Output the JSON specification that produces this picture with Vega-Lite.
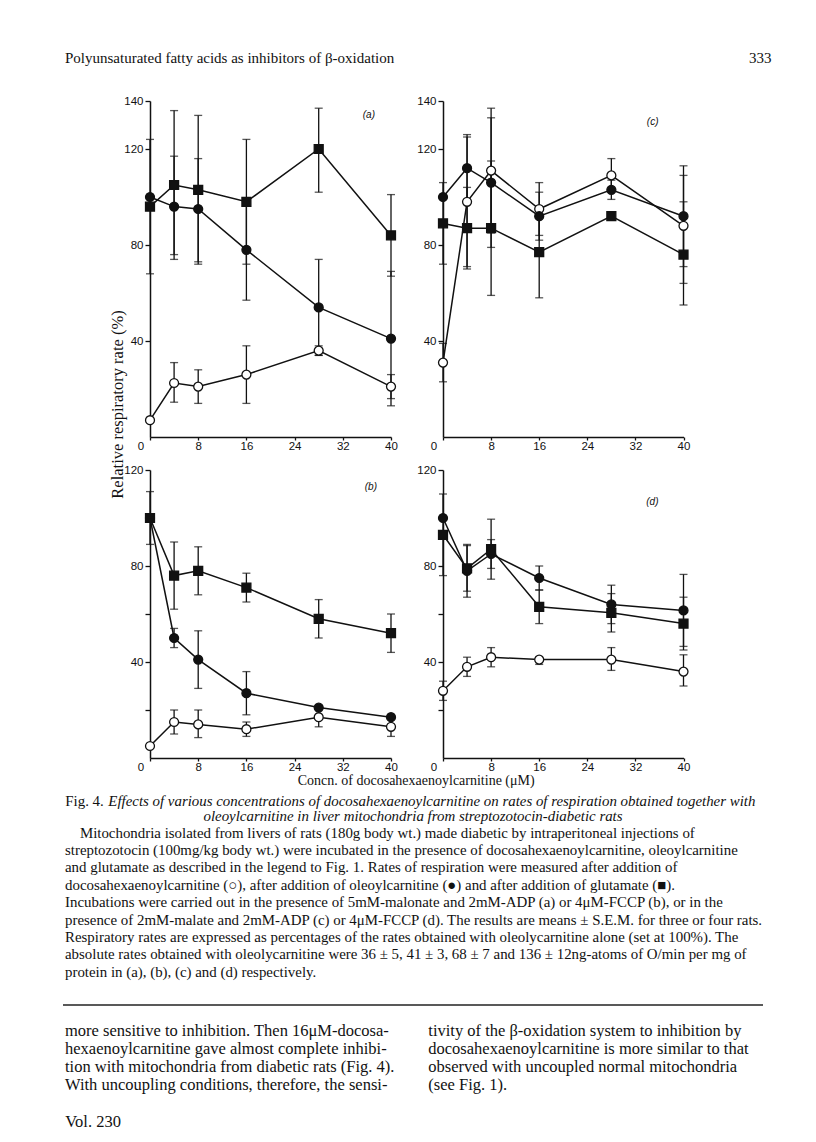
{
  "$schema": "https://vega.github.io/schema/vega-lite/v6.json",
  "background": "white",
  "padding": {"left": 62, "top": 0, "right": 0, "bottom": 0},
  "autosize": {"type": "pad"},
  "columns": 4,
  "align": "each",
  "bounds": "flush",
  "spacing": 0,
  "datasets": {
    "blank": [],
    "fig": [
      {"p": "a", "s": "doco", "x": 0, "v": 7},
      {"p": "a", "s": "doco", "x": 4, "v": 22.5, "lo": 14.5, "hi": 31},
      {"p": "a", "s": "doco", "x": 8, "v": 21, "lo": 14, "hi": 28},
      {"p": "a", "s": "doco", "x": 16, "v": 26, "lo": 14, "hi": 38},
      {"p": "a", "s": "doco", "x": 28, "v": 36, "lo": 34, "hi": 38},
      {"p": "a", "s": "doco", "x": 40, "v": 21, "lo": 16, "hi": 26},
      {"p": "a", "s": "oleo", "x": 0, "v": 100},
      {"p": "a", "s": "oleo", "x": 4, "v": 96, "lo": 76, "hi": 117},
      {"p": "a", "s": "oleo", "x": 8, "v": 95, "lo": 73, "hi": 116},
      {"p": "a", "s": "oleo", "x": 16, "v": 78, "lo": 57, "hi": 99},
      {"p": "a", "s": "oleo", "x": 28, "v": 54, "lo": 34, "hi": 74},
      {"p": "a", "s": "oleo", "x": 40, "v": 41, "lo": 13, "hi": 69},
      {"p": "a", "s": "glut", "x": 0, "v": 96, "lo": 68, "hi": 124},
      {"p": "a", "s": "glut", "x": 4, "v": 105, "lo": 74, "hi": 136},
      {"p": "a", "s": "glut", "x": 8, "v": 103, "lo": 72, "hi": 134},
      {"p": "a", "s": "glut", "x": 16, "v": 98, "lo": 72, "hi": 124},
      {"p": "a", "s": "glut", "x": 28, "v": 120, "lo": 102, "hi": 137},
      {"p": "a", "s": "glut", "x": 40, "v": 84, "lo": 67, "hi": 101},

      {"p": "c", "s": "doco", "x": 0, "v": 31, "lo": 23, "hi": 39},
      {"p": "c", "s": "doco", "x": 4, "v": 98, "lo": 71, "hi": 125},
      {"p": "c", "s": "doco", "x": 8, "v": 111, "lo": 85, "hi": 137},
      {"p": "c", "s": "doco", "x": 16, "v": 95, "lo": 84, "hi": 106},
      {"p": "c", "s": "doco", "x": 28, "v": 109, "lo": 102, "hi": 116},
      {"p": "c", "s": "doco", "x": 40, "v": 88, "lo": 64, "hi": 113},
      {"p": "c", "s": "oleo", "x": 0, "v": 100},
      {"p": "c", "s": "oleo", "x": 4, "v": 112, "lo": 98, "hi": 126},
      {"p": "c", "s": "oleo", "x": 8, "v": 106, "lo": 79, "hi": 133},
      {"p": "c", "s": "oleo", "x": 16, "v": 92, "lo": 82, "hi": 102},
      {"p": "c", "s": "oleo", "x": 28, "v": 103, "lo": 99, "hi": 107},
      {"p": "c", "s": "oleo", "x": 40, "v": 92, "lo": 71, "hi": 109},
      {"p": "c", "s": "glut", "x": 0, "v": 89, "lo": 72, "hi": 106},
      {"p": "c", "s": "glut", "x": 4, "v": 87, "lo": 70, "hi": 104},
      {"p": "c", "s": "glut", "x": 8, "v": 87, "lo": 59, "hi": 115},
      {"p": "c", "s": "glut", "x": 16, "v": 77, "lo": 58, "hi": 96},
      {"p": "c", "s": "glut", "x": 28, "v": 92},
      {"p": "c", "s": "glut", "x": 40, "v": 76, "lo": 55, "hi": 98},

      {"p": "b", "s": "doco", "x": 0, "v": 5},
      {"p": "b", "s": "doco", "x": 4, "v": 15, "lo": 10, "hi": 20},
      {"p": "b", "s": "doco", "x": 8, "v": 14, "lo": 8.5, "hi": 20},
      {"p": "b", "s": "doco", "x": 16, "v": 12, "lo": 9, "hi": 15},
      {"p": "b", "s": "doco", "x": 28, "v": 17, "lo": 13, "hi": 21},
      {"p": "b", "s": "doco", "x": 40, "v": 13, "lo": 9, "hi": 17},
      {"p": "b", "s": "oleo", "x": 0, "v": 100},
      {"p": "b", "s": "oleo", "x": 4, "v": 50, "lo": 46, "hi": 54},
      {"p": "b", "s": "oleo", "x": 8, "v": 41, "lo": 29, "hi": 53},
      {"p": "b", "s": "oleo", "x": 16, "v": 27, "lo": 18, "hi": 36},
      {"p": "b", "s": "oleo", "x": 28, "v": 21},
      {"p": "b", "s": "oleo", "x": 40, "v": 17},
      {"p": "b", "s": "glut", "x": 0, "v": 100, "lo": 89, "hi": 111},
      {"p": "b", "s": "glut", "x": 4, "v": 76, "lo": 62, "hi": 90},
      {"p": "b", "s": "glut", "x": 8, "v": 78, "lo": 68, "hi": 88},
      {"p": "b", "s": "glut", "x": 16, "v": 71, "lo": 65, "hi": 77},
      {"p": "b", "s": "glut", "x": 28, "v": 58, "lo": 50, "hi": 66},
      {"p": "b", "s": "glut", "x": 40, "v": 52, "lo": 44, "hi": 60},

      {"p": "d", "s": "doco", "x": 0, "v": 28, "lo": 24, "hi": 32},
      {"p": "d", "s": "doco", "x": 4, "v": 38, "lo": 34, "hi": 42},
      {"p": "d", "s": "doco", "x": 8, "v": 42, "lo": 38, "hi": 46},
      {"p": "d", "s": "doco", "x": 16, "v": 41, "lo": 39, "hi": 42},
      {"p": "d", "s": "doco", "x": 28, "v": 41, "lo": 36.5, "hi": 46},
      {"p": "d", "s": "doco", "x": 40, "v": 36, "lo": 30, "hi": 43},
      {"p": "d", "s": "oleo", "x": 0, "v": 100},
      {"p": "d", "s": "oleo", "x": 4, "v": 78, "lo": 67, "hi": 89},
      {"p": "d", "s": "oleo", "x": 8, "v": 85, "lo": 79, "hi": 91},
      {"p": "d", "s": "oleo", "x": 16, "v": 75, "lo": 70, "hi": 80},
      {"p": "d", "s": "oleo", "x": 28, "v": 64, "lo": 56, "hi": 72},
      {"p": "d", "s": "oleo", "x": 40, "v": 61.5, "lo": 46.5, "hi": 76.5},
      {"p": "d", "s": "glut", "x": 0, "v": 93, "lo": 76, "hi": 110},
      {"p": "d", "s": "glut", "x": 4, "v": 79, "lo": 69.5, "hi": 88.5},
      {"p": "d", "s": "glut", "x": 8, "v": 87, "lo": 74.5, "hi": 99.5},
      {"p": "d", "s": "glut", "x": 16, "v": 63, "lo": 56, "hi": 70},
      {"p": "d", "s": "glut", "x": 28, "v": 60.5, "lo": 52.5, "hi": 68.5},
      {"p": "d", "s": "glut", "x": 40, "v": 56, "lo": 45, "hi": 67}
    ]
  },
  "concat": [
    {"width": 0.01, "height": 101, "data": {"name": "blank"}, "mark": "text",
     "title": {"text": "Polyunsaturated fatty acids as inhibitors of β-oxidation", "orient": "bottom", "offset": -50.4, "fontSize": 15}},
    {"width": 0.01, "height": 0.01, "data": {"name": "blank"}, "mark": "text"},
    {"width": 0.01, "height": 0.01, "data": {"name": "blank"}, "mark": "text"},
    {"width": 0.01, "height": 101, "data": {"name": "blank"}, "mark": "text",
     "title": {"text": "333", "orient": "bottom", "anchor": "end", "offset": -50.4, "dx": 328.5, "fontSize": 15}},

    {"width": 84.7, "height": 369, "data": {"name": "blank"}, "mark": "text"},
    {
      "width": 241, "height": 336,
      "data": {"name": "fig"},
      "transform": [{"filter": "datum.p === 'a'"}],
      "title": {"text": "(a)", "orient": "top", "anchor": "end", "offset": -24.5, "dx": -16, "font": "Liberation Sans", "fontSize": 10, "fontStyle": "italic"},
      "encoding": {"x": {"field": "x", "type": "quantitative", "scale": {"domain": [0, 40], "nice": false},
        "axis": {"values": [0, 8, 16, 24, 32, 40], "title": null, "tickSize": 3, "labelPadding": 0, "labelFlush": false, "labelOffset": {"condition": {"test": "datum.value === 0", "value": -9.5}, "value": 0}}}},
      "layer": [
        {"transform": [{"filter": "isValid(datum.lo)"}],
         "mark": {"type": "errorbar", "color": "#111", "ticks": {"size": 8, "thickness": 1.3}, "rule": {"strokeWidth": 1.3}},
         "encoding": {"y": {"field": "lo", "type": "quantitative", "scale": {"domain": [0, 140], "nice": false},
           "axis": {"values": [40, 80, 120, 140], "title": "Relative respiratory rate (%)", "titleFontSize": 16.5, "titleX": -32.7, "titleY": 303, "titleAngle": -90, "titleAlign": "center", "titleBaseline": "middle"}},
           "y2": {"field": "hi"}}},
        {"mark": {"type": "line", "color": "#111", "strokeWidth": 1.5},
         "encoding": {"y": {"field": "v", "type": "quantitative", "scale": {"domain": [0, 140], "nice": false},
           "axis": {"values": [40, 80, 120, 140], "title": "Relative respiratory rate (%)", "titleFontSize": 16.5, "titleX": -32.7, "titleY": 303, "titleAngle": -90, "titleAlign": "center", "titleBaseline": "middle"}},
           "detail": {"field": "s"}}},
        {"mark": {"type": "point", "filled": true, "stroke": "#111", "strokeWidth": 1.3, "opacity": 1},
         "encoding": {"y": {"field": "v", "type": "quantitative", "scale": {"domain": [0, 140], "nice": false},
           "axis": {"values": [40, 80, 120, 140], "title": "Relative respiratory rate (%)", "titleFontSize": 16.5, "titleX": -32.7, "titleY": 303, "titleAngle": -90, "titleAlign": "center", "titleBaseline": "middle"}},
           "shape": {"field": "s", "type": "nominal", "scale": {"domain": ["doco", "oleo", "glut"], "range": ["circle", "circle", "square"]}, "legend": null},
           "fill": {"field": "s", "type": "nominal", "scale": {"domain": ["doco", "oleo", "glut"], "range": ["white", "#111", "#111"]}, "legend": null},
           "size": {"field": "s", "type": "ordinal", "scale": {"domain": ["doco", "oleo", "glut"], "range": [80, 80, 100]}, "legend": null}}}
      ]
    },
    {"width": 51.8, "height": 0.01, "data": {"name": "blank"}, "mark": "text"},
    {
      "width": 240.5, "height": 336,
      "data": {"name": "fig"},
      "transform": [{"filter": "datum.p === 'c'"}],
      "title": {"text": "(c)", "orient": "top", "anchor": "end", "offset": -31.5, "dx": -25, "font": "Liberation Sans", "fontSize": 10, "fontStyle": "italic"},
      "encoding": {"x": {"field": "x", "type": "quantitative", "scale": {"domain": [0, 40], "nice": false},
        "axis": {"values": [0, 8, 16, 24, 32, 40], "title": null, "tickSize": 3, "labelPadding": 0, "labelFlush": false, "labelOffset": {"condition": {"test": "datum.value === 0", "value": -9.5}, "value": 0}}}},
      "layer": [
        {"transform": [{"filter": "isValid(datum.lo)"}],
         "mark": {"type": "errorbar", "color": "#111", "ticks": {"size": 8, "thickness": 1.3}, "rule": {"strokeWidth": 1.3}},
         "encoding": {"y": {"field": "lo", "type": "quantitative", "scale": {"domain": [0, 140], "nice": false}, "axis": {"values": [40, 80, 120, 140], "title": null}},
           "y2": {"field": "hi"}}},
        {"mark": {"type": "line", "color": "#111", "strokeWidth": 1.5},
         "encoding": {"y": {"field": "v", "type": "quantitative", "scale": {"domain": [0, 140], "nice": false}, "axis": {"values": [40, 80, 120, 140], "title": null}},
           "detail": {"field": "s"}}},
        {"mark": {"type": "point", "filled": true, "stroke": "#111", "strokeWidth": 1.3, "opacity": 1},
         "encoding": {"y": {"field": "v", "type": "quantitative", "scale": {"domain": [0, 140], "nice": false}, "axis": {"values": [40, 80, 120, 140], "title": null}},
           "shape": {"field": "s", "type": "nominal", "scale": {"domain": ["doco", "oleo", "glut"], "range": ["circle", "circle", "square"]}, "legend": null},
           "fill": {"field": "s", "type": "nominal", "scale": {"domain": ["doco", "oleo", "glut"], "range": ["white", "#111", "#111"]}, "legend": null},
           "size": {"field": "s", "type": "ordinal", "scale": {"domain": ["doco", "oleo", "glut"], "range": [80, 80, 100]}, "legend": null}}}
      ]
    },

    {"width": 84.7, "height": 0.01, "data": {"name": "blank"}, "mark": "text"},
    {
      "width": 241, "height": 288,
      "data": {"name": "fig"},
      "transform": [{"filter": "datum.p === 'b'"}],
      "title": {"text": "(b)", "orient": "top", "anchor": "end", "offset": -27.5, "dx": -14, "font": "Liberation Sans", "fontSize": 10, "fontStyle": "italic"},
      "encoding": {"x": {"field": "x", "type": "quantitative", "scale": {"domain": [0, 40], "nice": false},
        "axis": {"values": [0, 8, 16, 24, 32, 40], "title": "Concn. of docosahexaenoylcarnitine (μM)", "titleX": 265.7, "titleY": 22, "titleAlign": "center", "titleBaseline": "middle", "tickSize": 3, "labelPadding": 0, "labelFlush": false, "labelOffset": {"condition": {"test": "datum.value === 0", "value": -9.5}, "value": 0}}}},
      "layer": [
        {"transform": [{"filter": "isValid(datum.lo)"}],
         "mark": {"type": "errorbar", "color": "#111", "ticks": {"size": 8, "thickness": 1.3}, "rule": {"strokeWidth": 1.3}},
         "encoding": {"y": {"field": "lo", "type": "quantitative", "scale": {"domain": [0, 120], "nice": false},
           "axis": {"values": [20, 40, 60, 80, 100, 120], "title": null, "labelExpr": "datum.value % 40 === 0 ? datum.label : ''"}},
           "y2": {"field": "hi"}}},
        {"mark": {"type": "line", "color": "#111", "strokeWidth": 1.5},
         "encoding": {"y": {"field": "v", "type": "quantitative", "scale": {"domain": [0, 120], "nice": false},
           "axis": {"values": [20, 40, 60, 80, 100, 120], "title": null, "labelExpr": "datum.value % 40 === 0 ? datum.label : ''"}},
           "detail": {"field": "s"}}},
        {"mark": {"type": "point", "filled": true, "stroke": "#111", "strokeWidth": 1.3, "opacity": 1},
         "encoding": {"y": {"field": "v", "type": "quantitative", "scale": {"domain": [0, 120], "nice": false},
           "axis": {"values": [20, 40, 60, 80, 100, 120], "title": null, "labelExpr": "datum.value % 40 === 0 ? datum.label : ''"}},
           "shape": {"field": "s", "type": "nominal", "scale": {"domain": ["doco", "oleo", "glut"], "range": ["circle", "circle", "square"]}, "legend": null},
           "fill": {"field": "s", "type": "nominal", "scale": {"domain": ["doco", "oleo", "glut"], "range": ["white", "#111", "#111"]}, "legend": null},
           "size": {"field": "s", "type": "ordinal", "scale": {"domain": ["doco", "oleo", "glut"], "range": [80, 80, 100]}, "legend": null}}}
      ]
    },
    {"width": 51.8, "height": 0.01, "data": {"name": "blank"}, "mark": "text"},
    {
      "width": 240.5, "height": 288,
      "data": {"name": "fig"},
      "transform": [{"filter": "datum.p === 'd'"}],
      "title": {"text": "(d)", "orient": "top", "anchor": "end", "offset": -42.5, "dx": -25, "font": "Liberation Sans", "fontSize": 10, "fontStyle": "italic"},
      "encoding": {"x": {"field": "x", "type": "quantitative", "scale": {"domain": [0, 40], "nice": false},
        "axis": {"values": [0, 8, 16, 24, 32, 40], "title": null, "tickSize": 3, "labelPadding": 0, "labelFlush": false, "labelOffset": {"condition": {"test": "datum.value === 0", "value": -9.5}, "value": 0}}}},
      "layer": [
        {"transform": [{"filter": "isValid(datum.lo)"}],
         "mark": {"type": "errorbar", "color": "#111", "ticks": {"size": 8, "thickness": 1.3}, "rule": {"strokeWidth": 1.3}},
         "encoding": {"y": {"field": "lo", "type": "quantitative", "scale": {"domain": [0, 120], "nice": false},
           "axis": {"values": [20, 40, 60, 80, 100, 120], "title": null, "labelExpr": "datum.value % 40 === 0 ? datum.label : ''"}},
           "y2": {"field": "hi"}}},
        {"mark": {"type": "line", "color": "#111", "strokeWidth": 1.5},
         "encoding": {"y": {"field": "v", "type": "quantitative", "scale": {"domain": [0, 120], "nice": false},
           "axis": {"values": [20, 40, 60, 80, 100, 120], "title": null, "labelExpr": "datum.value % 40 === 0 ? datum.label : ''"}},
           "detail": {"field": "s"}}},
        {"mark": {"type": "point", "filled": true, "stroke": "#111", "strokeWidth": 1.3, "opacity": 1},
         "encoding": {"y": {"field": "v", "type": "quantitative", "scale": {"domain": [0, 120], "nice": false},
           "axis": {"values": [20, 40, 60, 80, 100, 120], "title": null, "labelExpr": "datum.value % 40 === 0 ? datum.label : ''"}},
           "shape": {"field": "s", "type": "nominal", "scale": {"domain": ["doco", "oleo", "glut"], "range": ["circle", "circle", "square"]}, "legend": null},
           "fill": {"field": "s", "type": "nominal", "scale": {"domain": ["doco", "oleo", "glut"], "range": ["white", "#111", "#111"]}, "legend": null},
           "size": {"field": "s", "type": "ordinal", "scale": {"domain": ["doco", "oleo", "glut"], "range": [80, 80, 100]}, "legend": null}}}
      ]
    },

    {"width": 0.01, "height": 247, "data": {"values": [{}]},
     "mark": {"type": "rule", "color": "#222", "strokeWidth": 1.4},
     "encoding": {
       "y": {"datum": 0, "type": "quantitative", "scale": {"domain": [0, 1]}, "axis": null},
       "x": {"datum": 0, "type": "quantitative", "scale": {"domain": [0, 1], "range": [-2, 698]}, "axis": null},
       "x2": {"datum": 1}
     },
     "title": {"text": [
       "\u200b\u00a0\u00a0\u00a0\u00a0Mitochondria isolated from livers of rats (180g body wt.) made diabetic by intraperitoneal injections of",
       "streptozotocin (100mg/kg body wt.) were incubated in the presence of docosahexaenoylcarnitine, oleoylcarnitine",
       "and glutamate as described in the legend to Fig. 1. Rates of respiration were measured after addition of",
       "docosahexaenoylcarnitine (○), after addition of oleoylcarnitine (●) and after addition of glutamate (■).",
       "Incubations were carried out in the presence of 5mM-malonate and 2mM-ADP (a) or 4μM-FCCP (b), or in the",
       "presence of 2mM-malate and 2mM-ADP (c) or 4μM-FCCP (d). The results are means ± S.E.M. for three or four rats.",
       "Respiratory rates are expressed as percentages of the rates obtained with oleolycarnitine alone (set at 100%). The",
       "absolute rates obtained with oleolycarnitine were 36 ± 5, 41 ± 3, 68 ± 7 and 136 ± 12ng-atoms of O/min per mg of",
       "protein in (a), (b), (c) and (d) respectively."
     ], "orient": "bottom", "offset": -180, "fontSize": 14.9}},
    {"width": 0.01, "height": 0.01, "data": {"name": "blank"}, "mark": "text",
     "title": {"text": "Fig. 4.", "orient": "bottom", "offset": 35.8, "dx": -84.7, "fontSize": 14.9}},
    {"width": 0.01, "height": 0.01, "data": {"name": "blank"}, "mark": "text",
     "title": {"text": "Effects of various concentrations of docosahexaenoylcarnitine on rates of respiration obtained together with", "orient": "bottom", "offset": 35.8, "dx": -282.7, "fontSize": 14.9, "fontStyle": "italic"}},
    {"width": 0.01, "height": 0.01, "data": {"name": "blank"}, "mark": "text",
     "title": {"text": "oleoylcarnitine in liver mitochondria from streptozotocin-diabetic rats", "orient": "bottom", "anchor": "middle", "offset": 51.3, "dx": -30, "fontSize": 14.9, "fontStyle": "italic"}},

    {"width": 0.01, "height": 0.01, "data": {"name": "blank"}, "mark": "text",
     "title": {"text": [
       "more sensitive to inhibition. Then 16μM-docosa-",
       "hexaenoylcarnitine gave almost complete inhibi-",
       "tion with mitochondria from diabetic rats (Fig. 4).",
       "With uncoupling conditions, therefore, the sensi-"
     ], "orient": "bottom", "offset": 18, "fontSize": 16.5, "lineHeight": 18}},
    {"width": 0.01, "height": 0.01, "data": {"name": "blank"}, "mark": "text",
     "title": {"text": [
       "tivity of the β-oxidation system to inhibition by",
       "docosahexaenoylcarnitine is more similar to that",
       "observed with uncoupled normal mitochondria",
       "(see Fig. 1)."
     ], "orient": "bottom", "offset": 18, "dx": 278.3, "fontSize": 16.5, "lineHeight": 18}},
    {"width": 0.01, "height": 0.01, "data": {"name": "blank"}, "mark": "text",
     "title": {"text": "Vol. 230", "orient": "bottom", "offset": 109, "dx": -325.7, "fontSize": 16.5}}
  ],
  "config": {
    "view": {"stroke": null},
    "font": "Liberation Serif",
    "axis": {"grid": false, "domainColor": "#111", "domainWidth": 1.5, "tickColor": "#111", "tickWidth": 1.3, "tickSize": 5,
      "labelFont": "Liberation Sans", "labelFontSize": 11.5, "labelColor": "#111", "labelPadding": 2,
      "titleFont": "Liberation Serif", "titleFontSize": 14, "titleFontWeight": "normal", "titleColor": "#111"},
    "title": {"font": "Liberation Serif", "fontSize": 14, "fontWeight": "normal", "color": "#111", "anchor": "start", "frame": "group", "lineHeight": 17.4}
  }
}
